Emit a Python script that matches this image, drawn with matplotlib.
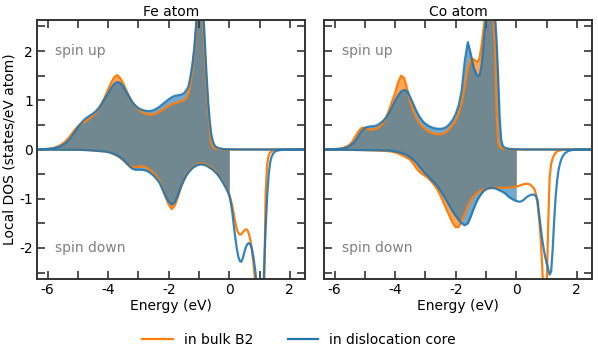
import numpy as np
import matplotlib
matplotlib.use("Agg")
import matplotlib.pyplot as plt
from matplotlib.ticker import MultipleLocator

plt.rcParams['font.family'] = ['DejaVu Sans']
plt.rcParams['axes.unicode_minus'] = False

# energy grid (eV): 0.1 steps, 0.05 steps around the Fermi level
energy = np.round(np.concatenate([
    np.linspace(-6.4, -1.4, 51),
    np.linspace(-1.35, 1.6, 60),
    np.linspace(1.7, 2.5, 9),
]), 2)

# ---- Fe atom ----
fe_up_bulk = [
    0, 0, 0.005, 0.01, 0.01, 0.02, 0.03, 0.05, 0.08, 0.12,
    0.17, 0.24, 0.32, 0.40, 0.47, 0.52, 0.55, 0.59, 0.64, 0.69,
    0.76, 0.84, 0.95, 1.08, 1.22, 1.36, 1.47, 1.51, 1.45, 1.34,
    1.20, 1.07, 0.96, 0.88, 0.82, 0.77, 0.74, 0.72, 0.71, 0.72,
    0.74, 0.77, 0.81, 0.85, 0.89, 0.92, 0.94, 0.96, 0.98, 1.00, 1.07,
    1.15, 1.30, 1.50, 1.75, 2.05, 2.45, 2.95, 3.30, 3.40, 3.00,
    2.45, 1.85, 1.32, 0.85, 0.45, 0.14, 0.06, 0.035, 0.025, 0.018,
    0.014, 0.01, 0.008, 0.006, 0.005, 0.004, 0.003, 0.002, 0.002, 0.001,
    0.001, 0.001, 0, 0, 0, 0, 0, 0, 0, 0,
    0, 0, 0, 0, 0, 0, 0, 0, 0, 0,
    0, 0, 0, 0, 0, 0, 0, 0, 0, 0,
    0, 0, 0, 0, 0, 0, 0, 0, 0,
]
fe_up_core = [
    0, 0, 0.005, 0.008, 0.01, 0.015, 0.025, 0.04, 0.06, 0.09,
    0.13, 0.19, 0.27, 0.36, 0.45, 0.53, 0.60, 0.65, 0.69, 0.73,
    0.78, 0.85, 0.94, 1.04, 1.14, 1.25, 1.33, 1.37, 1.35, 1.28,
    1.17, 1.06, 0.96, 0.89, 0.84, 0.81, 0.79, 0.78, 0.78, 0.80,
    0.83, 0.87, 0.92, 0.97, 1.02, 1.06, 1.09, 1.10, 1.11, 1.14, 1.22,
    1.28, 1.42, 1.60, 1.82, 2.10, 2.50, 2.95, 3.30, 3.45, 3.20,
    2.70, 2.10, 1.50, 1.00, 0.60, 0.33, 0.18, 0.10, 0.06, 0.04,
    0.03, 0.02, 0.015, 0.01, 0.008, 0.006, 0.005, 0.004, 0.003, 0.002,
    0.002, 0.001, 0.001, 0, 0, 0, 0, 0, 0, 0,
    0, 0, 0, 0, 0, 0, 0, 0, 0, 0,
    0, 0, 0, 0, 0, 0, 0, 0, 0, 0,
    0, 0, 0, 0, 0, 0, 0, 0, 0,
]
fe_down_bulk = [
    0, 0, 0, 0, -0.001, -0.002, -0.002, -0.003, -0.003, -0.004,
    -0.004, -0.005, -0.005, -0.005, -0.005, -0.007, -0.01, -0.012, -0.015, -0.02,
    -0.025, -0.03, -0.035, -0.04, -0.05, -0.07, -0.10, -0.13, -0.17, -0.22,
    -0.28, -0.33, -0.36, -0.36, -0.35, -0.34, -0.35, -0.38, -0.43, -0.48,
    -0.55, -0.64, -0.80, -0.97, -1.12, -1.21, -1.14, -0.97, -0.77, -0.62, -0.50,
    -0.46, -0.42, -0.39, -0.36, -0.34, -0.32, -0.30, -0.29, -0.285, -0.285,
    -0.29, -0.30, -0.31, -0.33, -0.35, -0.37, -0.39, -0.42, -0.45, -0.49,
    -0.53, -0.57, -0.62, -0.67, -0.73, -0.78, -0.85, -0.92, -1.02, -1.15,
    -1.32, -1.48, -1.62, -1.70, -1.73, -1.72, -1.68, -1.64, -1.62, -1.64,
    -1.72, -1.85, -2.05, -2.32, -2.65, -3.20, -4.20, -5.00, -5.00, -4.50,
    -2.90, -0.90, -0.30, -0.12, -0.06, -0.035, -0.02, -0.012, -0.008, -0.005,
    -0.003, -0.002, -0.001, 0, 0, 0, 0, 0, 0,
]
fe_down_core = [
    0, 0, 0, 0, -0.001, -0.002, -0.002, -0.003, -0.003, -0.004,
    -0.004, -0.005, -0.005, -0.005, -0.005, -0.007, -0.01, -0.012, -0.015, -0.02,
    -0.025, -0.03, -0.035, -0.04, -0.05, -0.07, -0.09, -0.12, -0.16, -0.21,
    -0.27, -0.34, -0.39, -0.41, -0.41, -0.41, -0.42, -0.44, -0.48, -0.53,
    -0.60, -0.68, -0.82, -0.95, -1.06, -1.12, -1.07, -0.93, -0.76, -0.62, -0.51,
    -0.47, -0.43, -0.40, -0.37, -0.35, -0.33, -0.32, -0.31, -0.305, -0.305,
    -0.31, -0.32, -0.33, -0.35, -0.37, -0.39, -0.41, -0.44, -0.47, -0.50,
    -0.54, -0.58, -0.63, -0.68, -0.74, -0.79, -0.86, -0.93, -1.08, -1.28,
    -1.55, -1.80, -2.02, -2.18, -2.27, -2.28, -2.20, -2.08, -1.98, -1.92,
    -1.90, -1.93, -2.03, -2.20, -2.42, -2.70, -3.30, -4.50, -5.00, -3.40,
    -2.40, -1.60, -0.95, -0.52, -0.26, -0.14, -0.08, -0.05, -0.03, -0.02,
    -0.01, -0.005, -0.002, 0, 0, 0, 0, 0, 0,
]

# ---- Co atom ----
co_up_bulk = [
    0, 0, 0.003, 0.005, 0.008, 0.012, 0.02, 0.035, 0.06, 0.10,
    0.17, 0.28, 0.38, 0.44, 0.44, 0.41, 0.40, 0.41, 0.43, 0.47,
    0.54, 0.65, 0.80, 0.98, 1.15, 1.37, 1.50, 1.45, 1.22, 0.97,
    0.78, 0.64, 0.54, 0.46, 0.41, 0.37, 0.34, 0.32, 0.31, 0.31,
    0.33, 0.36, 0.42, 0.50, 0.60, 0.75, 0.97, 1.30, 1.65, 1.85, 1.83,
    1.80, 1.78, 1.80, 1.90, 2.10, 2.35, 2.60, 2.90, 3.10, 3.20,
    3.10, 2.90, 2.65, 2.10, 0.80, 0.15, 0.06, 0.035, 0.025, 0.018,
    0.012, 0.009, 0.007, 0.005, 0.004, 0.003, 0.002, 0.002, 0.001, 0.001,
    0.001, 0, 0, 0, 0, 0, 0, 0, 0, 0,
    0, 0, 0, 0, 0, 0, 0, 0, 0, 0,
    0, 0, 0, 0, 0, 0, 0, 0, 0, 0,
    0, 0, 0, 0, 0, 0, 0, 0, 0,
]
co_up_core = [
    0, 0, 0.002, 0.004, 0.006, 0.01, 0.015, 0.025, 0.04, 0.07,
    0.12, 0.19, 0.29, 0.38, 0.44, 0.46, 0.47, 0.475, 0.49, 0.53,
    0.58, 0.65, 0.74, 0.86, 0.99, 1.10, 1.18, 1.21, 1.18, 1.06,
    0.92, 0.78, 0.67, 0.58, 0.52, 0.48, 0.45, 0.43, 0.42, 0.42,
    0.43, 0.46, 0.52, 0.60, 0.72, 0.90, 1.21, 1.80, 2.18, 1.93, 1.65,
    1.58, 1.51, 1.49, 1.53, 1.70, 2.00, 2.35, 2.70, 3.00, 3.20,
    3.30, 3.20, 3.00, 2.70, 2.20, 1.50, 0.65, 0.20, 0.08, 0.045,
    0.03, 0.02, 0.015, 0.01, 0.008, 0.006, 0.005, 0.004, 0.003, 0.002,
    0.002, 0.001, 0.001, 0, 0, 0, 0, 0, 0, 0,
    0, 0, 0, 0, 0, 0, 0, 0, 0, 0,
    0, 0, 0, 0, 0, 0, 0, 0, 0, 0,
    0, 0, 0, 0, 0, 0, 0, 0, 0,
]
co_down_bulk = [
    0, 0, 0, 0, -0.002, -0.003, -0.004, -0.005, -0.006, -0.007,
    -0.008, -0.009, -0.01, -0.011, -0.012, -0.014, -0.016, -0.018, -0.02, -0.022,
    -0.025, -0.03, -0.035, -0.045, -0.06, -0.08, -0.11, -0.14, -0.17, -0.21,
    -0.29, -0.38, -0.45, -0.50, -0.54, -0.59, -0.65, -0.73, -0.82, -0.94,
    -1.08, -1.22, -1.36, -1.49, -1.58, -1.57, -1.45, -1.30, -1.15, -1.03, -0.95,
    -0.92, -0.89, -0.87, -0.85, -0.83, -0.82, -0.81, -0.80, -0.795, -0.79,
    -0.785, -0.78, -0.78, -0.78, -0.78, -0.78, -0.78, -0.78, -0.78, -0.78,
    -0.775, -0.775, -0.775, -0.77, -0.77, -0.765, -0.76, -0.75, -0.745, -0.735,
    -0.725, -0.715, -0.705, -0.70, -0.695, -0.70, -0.71, -0.735, -0.77, -0.81,
    -0.90, -1.08, -1.38, -1.75, -2.30, -3.00, -3.60, -2.90, -1.60, -0.58,
    -0.30, -0.18, -0.11, -0.065, -0.04, -0.025, -0.017, -0.012, -0.008, -0.006,
    -0.003, -0.002, -0.001, 0, 0, 0, 0, 0, 0,
]
co_down_core = [
    0, 0, 0, 0, -0.002, -0.003, -0.004, -0.005, -0.006, -0.007,
    -0.008, -0.009, -0.01, -0.011, -0.012, -0.013, -0.014, -0.015, -0.015, -0.016,
    -0.017, -0.02, -0.022, -0.03, -0.04, -0.05, -0.07, -0.09, -0.12, -0.16,
    -0.21, -0.27, -0.35, -0.42, -0.49, -0.55, -0.62, -0.68, -0.75, -0.84,
    -0.94, -1.04, -1.15, -1.26, -1.35, -1.43, -1.50, -1.54, -1.50, -1.36, -1.19,
    -1.12, -1.05, -0.99, -0.94, -0.90, -0.86, -0.83, -0.81, -0.795, -0.785,
    -0.78, -0.78, -0.785, -0.79, -0.80, -0.815, -0.83, -0.845, -0.86, -0.88,
    -0.90, -0.93, -0.96, -0.98, -1.00, -1.02, -1.035, -1.045, -1.055, -1.06,
    -1.055, -1.04, -1.02, -0.99, -0.965, -0.945, -0.93, -0.92, -0.915, -0.92,
    -0.95, -1.03, -1.30, -1.55, -1.80, -2.00, -2.17, -2.30, -2.42, -2.54,
    -2.48, -2.05, -1.45, -0.95, -0.62, -0.40, -0.27, -0.18, -0.12, -0.08,
    -0.035, -0.015, -0.007, -0.003, 0, 0, 0, 0, 0,
]

panels = [
    ("Fe atom", fe_up_bulk, fe_down_bulk, fe_up_core, fe_down_core),
    ("Co atom", co_up_bulk, co_down_bulk, co_up_core, co_down_core),
]

ORANGE = '#ff7f0e'
BLUE = '#1f77b4'
SPINE = '#333333'

fig = plt.figure(figsize=(5.98, 3.6), dpi=100)
ax1 = fig.add_axes([37 / 598, 1 - 279 / 360, 268 / 598, 259 / 360])
ax2 = fig.add_axes([324 / 598, 1 - 279 / 360, 268 / 598, 259 / 360], sharey=ax1)

below = energy <= 0
for ax, (title, ub, db, uc, dc) in zip([ax1, ax2], panels):
    ub, db, uc, dc = map(np.array, (ub, db, uc, dc))
    # filled states below the Fermi level
    ax.fill_between(energy, 0, ub, where=below, color=ORANGE, alpha=0.7, lw=0)
    ax.fill_between(energy, 0, db, where=below, color=ORANGE, alpha=0.7, lw=0)
    ax.fill_between(energy, 0, uc, where=below, color=BLUE, alpha=0.63, lw=0)
    ax.fill_between(energy, 0, dc, where=below, color=BLUE, alpha=0.63, lw=0)
    ax.plot(energy, ub, color=ORANGE, lw=1.6)
    ax.plot(energy, db, color=ORANGE, lw=1.6)
    ax.plot(energy, uc, color=BLUE, lw=1.6, alpha=0.9)
    ax.plot(energy, dc, color=BLUE, lw=1.6, alpha=0.9)

    ax.set_xlim(-6.35, 2.5)
    ax.set_ylim(-2.63, 2.63)
    ax.set_title(title, fontsize=10, pad=3)
    ax.set_xlabel("Energy (eV)", fontsize=10, labelpad=1)
    ax.text(-5.75, 2.0, "spin up", color='grey', fontsize=10, va='center')
    ax.text(-5.75, -2.0, "spin down", color='grey', fontsize=10, va='center')

    ax.xaxis.set_major_locator(MultipleLocator(2))
    ax.xaxis.set_minor_locator(MultipleLocator(1))
    ax.yaxis.set_major_locator(MultipleLocator(1))
    ax.yaxis.set_minor_locator(MultipleLocator(0.5))
    for which in ('major', 'minor'):
        ax.tick_params(axis='both', which=which, direction='in', length=6,
                       width=1.2, color=SPINE, top=True, right=True,
                       labelsize=10, pad=3)
    for sp in ax.spines.values():
        sp.set_color(SPINE)
        sp.set_linewidth(1.4)

ax1.set_ylabel("Local DOS (states/eV atom)", fontsize=10, labelpad=2)
ax2.tick_params(axis='y', labelleft=False)

handles = [plt.Line2D([], [], color=ORANGE, lw=1.6),
           plt.Line2D([], [], color=BLUE, lw=1.6)]
fig.legend(handles, ["in bulk B2", "in dislocation core"], loc='center',
           bbox_to_anchor=(0.5, 1 - 340 / 360), ncol=2, frameon=False,
           fontsize=10, handlelength=2.2, columnspacing=2.5)

fig.savefig("out.png", dpi=100)
